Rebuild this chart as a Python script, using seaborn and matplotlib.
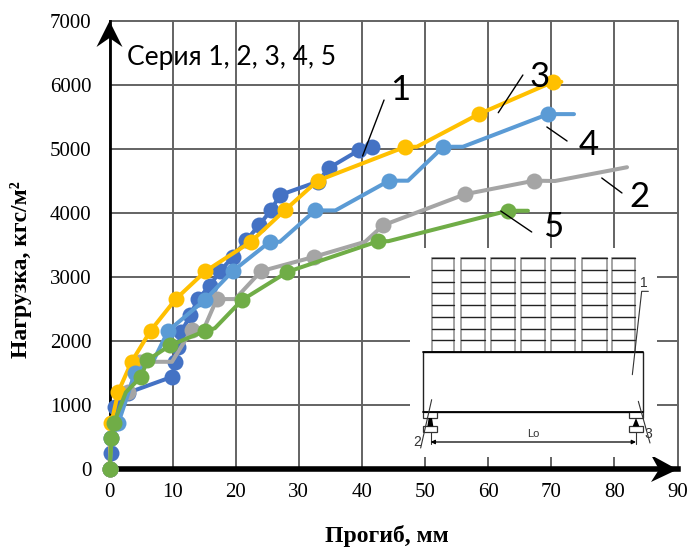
import matplotlib
matplotlib.use("Agg")
import matplotlib.pyplot as plt
import pandas as pd
import seaborn as sns
from matplotlib.patches import Polygon, Rectangle

sns.set_theme(style="white")
plt.rcParams["font.family"] = ["Liberation Serif", "DejaVu Serif"]

x1 = [0, 0.2, 0.9, 2.9, 9.9, 10.4, 10.9, 11.4, 12.8, 14, 15.9, 17.5, 19.6, 21.7, 23.7, 25.6, 27, 33, 34.8, 39.6, 41.6]
y1 = [0, 250, 970, 1190, 1440, 1670, 1910, 2145, 2400, 2650, 2865, 3090, 3320, 3575, 3810, 4045, 4280, 4490, 4705, 4985, 5030]
marks1 = list(range(len(x1)))

x2 = [0, 0.3, 1, 3, 4.8, 9.9, 13, 15.1, 17, 19.9, 24, 32.4, 40.5, 43.4, 56.4, 67.3, 70.6, 82]
y2 = [0, 480, 720, 1210, 1675, 1675, 2170, 2225, 2655, 2655, 3090, 3315, 3550, 3810, 4295, 4505, 4500, 4715]
marks2 = [0, 1, 2, 3, 4, 6, 8, 10, 11, 13, 14, 15]

x3 = [0, 0.1, 0.3, 1.4, 3.5, 6.5, 10.5, 15.2, 22.4, 27.8, 33, 46.9, 48.7, 58.5, 70.3, 71.6]
y3 = [0, 250, 720, 1210, 1675, 2160, 2655, 3090, 3550, 4045, 4505, 5035, 5035, 5545, 6050, 6050]
marks3 = [0, 2, 3, 4, 5, 6, 7, 8, 9, 10, 11, 13, 14]

x4 = [0, 0.3, 1.4, 3, 4, 7, 9.3, 15.1, 19.5, 25.4, 27, 32.6, 35.8, 44.3, 47.3, 52.9, 56, 69.5, 73.6]
y4 = [0, 480, 720, 1190, 1500, 1700, 2160, 2640, 3090, 3550, 3550, 4040, 4040, 4505, 4505, 5035, 5035, 5545, 5545]
marks4 = [0, 1, 2, 4, 6, 7, 8, 9, 11, 13, 15, 17]

x5 = [0, 0.2, 0.3, 0.7, 2.6, 5, 6, 9.6, 15.1, 16.7, 21, 28.2, 42.6, 44.2, 63.1, 66.3]
y5 = [0, 250, 490, 720, 1200, 1440, 1700, 1930, 2155, 2200, 2640, 3080, 3560, 3560, 4035, 4035]
marks5 = [0, 2, 3, 5, 6, 7, 8, 10, 11, 12, 14]

colors = ["#4472C4", "#A5A5A5", "#FFC000", "#5B9BD5", "#70AD47"]
series = [(x1, y1, marks1), (x2, y2, marks2), (x3, y3, marks3), (x4, y4, marks4), (x5, y5, marks5)]

# number label, text position, pointer start, pointer end
labels = ["1", "3", "4", "2", "5"]
label_pos = [(46, 5920), (68.2, 6125), (76, 5063), (84, 4250), (70.3, 3781)]
ptr_from = [(43.5, 5765), (65.5, 6156), (69.3, 5344), (78, 4547), (62, 4031)]
ptr_to = [(40.1, 4890), (61.6, 5567), (72.5, 5125), (81.2, 4313), (66.9, 3703)]

fig = plt.figure(figsize=(6.89, 5.48), dpi=100)
W, H = 689, 548
ax = fig.add_axes([109.5 / W, 1 - 469 / H, (677.5 - 109.5) / W, (469 - 21) / H])

for (xs, ys, marks), c in zip(series, colors):
    df = pd.DataFrame({"x": xs, "y": ys})
    sns.lineplot(data=df, x="x", y="y", ax=ax, sort=False, errorbar=None, color=c, lw=2.9,
                 marker="o", markersize=11.5, markeredgewidth=0, markevery=marks,
                 clip_on=False, zorder=3, solid_capstyle="round")

ax.set_xlim(0, 90)
ax.set_ylim(0, 7000)
ax.set_xticks(range(0, 91, 10))
ax.set_yticks(range(0, 7001, 1000))
ax.grid(True, color="#636363", lw=1.4)
ax.set_axisbelow(True)
for g in ax.get_xgridlines() + ax.get_ygridlines():
    g.set_clip_on(False)
ax.tick_params(labelsize=15, colors="black", length=0, labelfontfamily="Liberation Serif")
ax.tick_params(axis="y", pad=13)
ax.tick_params(axis="x", pad=10)
for s in ["top", "right"]:
    ax.spines[s].set_visible(False)
ax.spines["left"].set_color("black")
ax.spines["left"].set_linewidth(2)
ax.spines["bottom"].set_color("black")
ax.spines["bottom"].set_linewidth(4)
for s in ["left", "bottom"]:
    ax.spines[s].set_zorder(2.5)

# arrow heads at the axis ends, given in pixels from the axes corner
px = lambda a, b: ((a - 109.5) / 568, (469 - b) / 448)
ax.add_patch(Polygon([px(109.5, 21), px(122.5, 47), px(109.5, 38), px(96.5, 47)], transform=ax.transAxes,
                     fc="black", ec="none", clip_on=False, zorder=2.6))
ax.add_patch(Polygon([px(677.5, 469.5), px(651, 482), px(659, 469.5), px(651, 455)], transform=ax.transAxes,
                     fc="black", ec="none", clip_on=False, zorder=2.6))

ax.set_xlabel("Прогиб, мм", fontsize=17, fontweight="bold", color="black", va="center")
ax.xaxis.set_label_coords((387 - 109.5) / 568, -(536 - 469) / 448)
ax.set_ylabel("Нагрузка, кгс/м²", fontsize=17, fontweight="bold", color="black", va="center")
ax.yaxis.set_label_coords(-(109.5 - 21) / 568, (469 - 270) / 448)

ax.text(2.8, 6430, "Серия 1, 2, 3, 4, 5", fontsize=19, family="Lato", color="black", va="center", zorder=6)

for t, p, a, b in zip(labels, label_pos, ptr_from, ptr_to):
    ax.plot([a[0], b[0]], [a[1], b[1]], color="black", lw=1, zorder=5)
    ax.text(p[0], p[1], t, fontsize=25, family="Lato", color="black", ha="center", va="center", zorder=6)

# schematic of the loaded slab, drawn in its own axes on top of the grid
ins = fig.add_axes([410 / W, 1 - 457 / H, 247 / W, 209 / H], zorder=2)
ins.set_xlim(30, 771)
ins.set_ylim(652, 25)
ins.axis("off")
ins.add_patch(Rectangle((30, 25), 741, 627, fc="white", ec="none"))
brick_left = [95, 182, 272, 363, 453, 547, 637]
brick_right = [162, 254, 344, 436, 526, 620, 704]
for l, r in zip(brick_left, brick_right):
    ins.add_patch(Rectangle((l, 55), r - l, 282, fc="white", ec="#8a8a8a", lw=1.1))
    for row in range(0, 8):
        ins.plot([l, r], [55 + row * 35.3] * 2, color="#222222", lw=1)
ins.add_patch(Rectangle((70, 337), 658, 181, fc="white", ec="#222222", lw=1))
ins.plot([70, 728], [518, 518], color="black", lw=1.3)
ins.plot([70, 728], [337, 337], color="black", lw=1.3)
for l in [70, 687]:
    ins.add_patch(Rectangle((l, 518), 41, 17, fc="white", ec="#333333", lw=0.9))
    ins.add_patch(Rectangle((l, 560), 41, 18, fc="white", ec="#333333", lw=0.9))
ins.add_patch(Polygon([(82, 560), (100, 560), (96, 535), (86, 535)], fc="black", ec="none"))
ins.add_patch(Polygon([(698, 560), (718, 560), (708, 535)], fc="black", ec="none"))
ins.plot([92, 92], [578, 612], color="#333333", lw=0.8)
ins.plot([708, 708], [578, 612], color="#333333", lw=0.8)
ins.annotate("", xy=(92, 607), xytext=(708, 607), arrowprops=dict(arrowstyle="<|-|>", color="black", lw=0.9, mutation_scale=6, shrinkA=0, shrinkB=0))
ins.text(399, 584, "Lo", fontsize=8, family="Liberation Sans", color="#333333", ha="center", va="center")
ins.text(731, 130, "1", fontsize=10, family="Liberation Sans", color="#333333", ha="center", va="center")
ins.text(53, 606, "2", fontsize=10, family="Liberation Sans", color="#333333", ha="center", va="center")
ins.text(745, 584, "3", fontsize=10, family="Liberation Sans", color="#333333", ha="center", va="center")
ins.plot([745, 725, 697], [155, 155, 405], color="#333333", lw=0.8)
ins.plot([62, 95], [625, 480], color="#333333", lw=0.8)
ins.plot([750, 715], [610, 485], color="#333333", lw=0.8)

fig.savefig("out.png", dpi=100, facecolor="white")
